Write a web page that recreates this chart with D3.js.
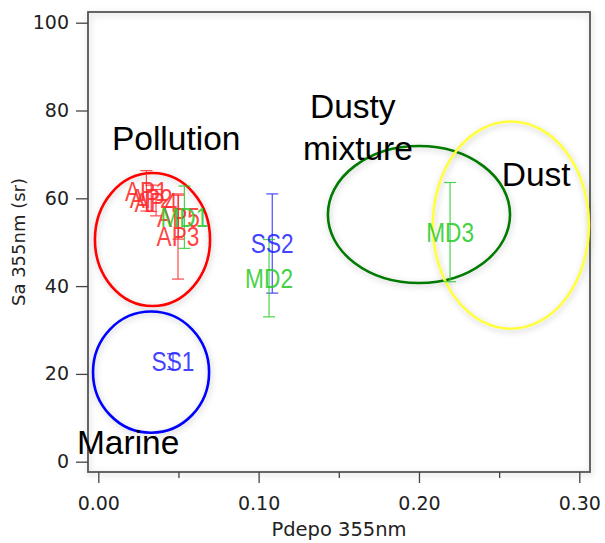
<!DOCTYPE html>
<html>
<head>
<meta charset="utf-8">
<script src="https://cdn.jsdelivr.net/npm/d3@7"></script>
<style>
  body { margin: 0; background: #fff; }
  svg { display: block; }
</style>
</head>
<body>
<svg id="chart" width="605" height="543"></svg>
<script>
// ---- data ----
var pointNames  = ['AP1', 'AP2', 'AP4', 'AP5', 'AP3', 'MD1', 'SS2', 'MD2', 'MD3', 'SS1'];
var pointGroup  = ['AP', 'AP', 'AP', 'AP', 'AP', 'MD', 'SS', 'MD', 'MD', 'SS'];
var pdepo       = [0.030, 0.033, 0.036, 0.050, 0.0497, 0.0537, 0.1085, 0.1065, 0.2194, 0.0466];
var lidarRatio  = [61.7, 60.0, 59.0, 55.7, 51.3, 55.7, 49.7, 41.8, 52.3, 22.8];
var lidarErr    = [4.6, 3.0, 3.0, 5.0, 9.7, 7.1, 11.3, 8.8, 11.3, 1.8];

var xTicks = [0, 0.1, 0.2, 0.3];
var xMinorTicks = [0.05, 0.15, 0.25];
var yTicks = [0, 20, 40, 60, 80, 100];

// class ellipses (centre, half width, half height in data units)
var clusterNames  = ['Pollution', 'Marine', 'Dusty mixture', 'Dust'];
var clusterCx     = [0.0338, 0.0329, 0.200, 0.2573];
var clusterCy     = [50.6, 20.4, 56.3, 53.9];
var clusterRx     = [0.0359, 0.0362, 0.0568, 0.0487];
var clusterRy     = [15.15, 13.8, 15.6, 23.6];
var clusterColor  = ['#ff0000', '#0000ff', '#007a00', '#ffff40'];

// class labels, lines of text and where they start (data units)
var noteLines = [['Pollution'], ['Marine'], ['Dusty', 'mixture'], ['Dust']];
var noteX     = [[0.0085], [-0.0133], [0.132, 0.1277], [0.2516]];
var noteY     = [[71.0], [1.75], [78.2, 68.7], [62.8]];

var groupColor = { AP: '#ff2a2a', MD: '#2ccc2c', SS: '#2a2aff' };

// ---- layout ----
var svg = d3.select('#chart');

var x = d3.scaleLinear().domain([0, 0.3]).range([98.3, 579.3]);
var y = d3.scaleLinear().domain([0, 100]).range([461.7, 22.7]);

var frame = { left: 88, top: 12, right: 590, bottom: 472 };

var defs = svg.append('defs');
var f = defs.append('filter').attr('id', 'glow')
    .attr('x', '-20%').attr('y', '-20%').attr('width', '140%').attr('height', '140%');
f.append('feGaussianBlur').attr('in', 'SourceAlpha').attr('stdDeviation', 3).attr('result', 'b');
f.append('feOffset').attr('in', 'b').attr('dx', 1).attr('dy', 2).attr('result', 'o');
f.append('feFlood').attr('flood-color', '#000').attr('flood-opacity', 0.22);
f.append('feComposite').attr('in2', 'o').attr('operator', 'in').attr('result', 's');
var m = f.append('feMerge');
m.append('feMergeNode').attr('in', 's');
m.append('feMergeNode').attr('in', 'SourceGraphic');

// frame
svg.append('rect')
    .attr('x', frame.left).attr('y', frame.top)
    .attr('width', frame.right - frame.left)
    .attr('height', frame.bottom - frame.top)
    .attr('fill', 'none')
    .attr('stroke', '#555')
    .attr('stroke-width', 1.8)
    .attr('filter', 'url(#glow)');

// y axis
var yAxis = svg.append('g').attr('transform', 'translate(' + frame.left + ',0)')
    .call(d3.axisLeft(y).tickValues(yTicks).tickSize(12).tickPadding(7).tickFormat(d3.format('d')));
yAxis.select('.domain').remove();
yAxis.selectAll('line').attr('stroke', '#444').attr('stroke-width', 1.3);
yAxis.selectAll('text').attr('font-family', 'DejaVu Sans').attr('font-size', 19).attr('fill', '#222');

// x axis
var xAxis = svg.append('g').attr('transform', 'translate(0,' + frame.bottom + ')')
    .call(d3.axisBottom(x).tickValues(xTicks).tickSize(11).tickPadding(14).tickFormat(d3.format('.2f')));
xAxis.select('.domain').remove();
xAxis.selectAll('line').attr('stroke', '#444').attr('stroke-width', 1.3);
xAxis.selectAll('text').attr('font-family', 'DejaVu Sans').attr('font-size', 19).attr('fill', '#222');

var xMinor = svg.append('g').attr('transform', 'translate(0,' + frame.bottom + ')')
    .call(d3.axisBottom(x).tickValues(xMinorTicks).tickSize(6).tickFormat(''));
xMinor.select('.domain').remove();
xMinor.selectAll('line').attr('stroke', '#444').attr('stroke-width', 1.3);

// axis titles
svg.append('text')
    .attr('transform', 'translate(25,242) rotate(-90)')
    .attr('text-anchor', 'middle')
    .attr('font-family', 'DejaVu Sans').attr('font-size', 18).attr('fill', '#222')
    .text('Sa 355nm (sr)');

svg.append('text')
    .attr('x', 339).attr('y', 536)
    .attr('text-anchor', 'middle')
    .attr('font-family', 'DejaVu Sans').attr('font-size', 19.5).attr('fill', '#222')
    .text('Pdepo 355nm');

// ellipses
svg.append('g').selectAll('ellipse')
    .data(clusterNames)
    .join('ellipse')
    .attr('cx', function(d, i) { return x(clusterCx[i]); })
    .attr('cy', function(d, i) { return y(clusterCy[i]); })
    .attr('rx', function(d, i) { return x(clusterRx[i]) - x(0); })
    .attr('ry', function(d, i) { return y(0) - y(clusterRy[i]); })
    .attr('fill', 'none')
    .attr('stroke', function(d, i) { return clusterColor[i]; })
    .attr('stroke-width', 2.6)
    .attr('filter', 'url(#glow)');

// error bars
var bars = svg.append('g');
pointNames.forEach(function(name, i) {
    var c = groupColor[pointGroup[i]];
    var px = x(pdepo[i]);
    var y0 = y(lidarRatio[i] - lidarErr[i]);
    var y1 = y(lidarRatio[i] + lidarErr[i]);
    var g = bars.append('g').attr('stroke', c).attr('stroke-width', 1.2).attr('opacity', 0.85);
    g.append('line').attr('x1', px).attr('x2', px).attr('y1', y0).attr('y2', y1);
    g.append('line').attr('x1', px - 6).attr('x2', px + 6).attr('y1', y0).attr('y2', y0);
    g.append('line').attr('x1', px - 6).attr('x2', px + 6).attr('y1', y1).attr('y2', y1);
});

// point labels (drawn at the point, the label is the marker)
svg.append('g').selectAll('text')
    .data(pointNames)
    .join('text')
    .attr('transform', function(d, i) {
        return 'translate(' + x(pdepo[i]) + ',' + y(lidarRatio[i]) + ') scale(0.84,1)';
    })
    .attr('dy', '0.36em')
    .attr('text-anchor', 'middle')
    .attr('font-family', 'Liberation Sans, Arial, sans-serif')
    .attr('font-size', 27)
    .attr('fill', function(d, i) { return groupColor[pointGroup[i]]; })
    .attr('fill-opacity', 0.9)
    .text(function(d) { return d; });

// class labels
noteLines.forEach(function(lines, i) {
    lines.forEach(function(t, j) {
        svg.append('text')
            .attr('x', x(noteX[i][j]))
            .attr('y', y(noteY[i][j]))
            .attr('font-family', 'Liberation Sans, Arial, sans-serif')
            .attr('font-size', 33.5)
            .attr('fill', '#000')
            .text(t);
    });
});
</script>
</body>
</html>
